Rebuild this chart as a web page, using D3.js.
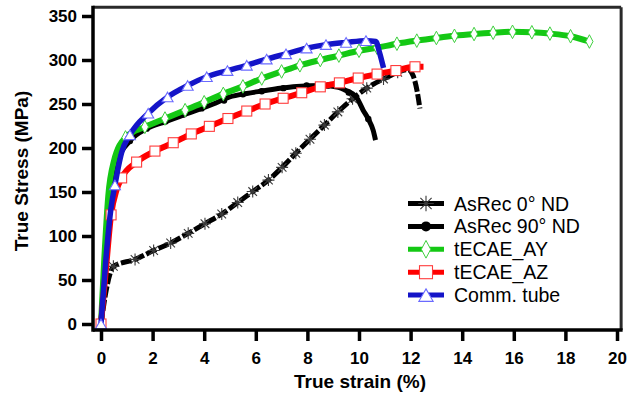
<!DOCTYPE html>
<html>
<head>
<meta charset="utf-8">
<script src="https://cdn.jsdelivr.net/npm/d3@7"></script>
<style>
  body { margin: 0; background: #fff; }
  svg { display: block; font-family: "Liberation Sans", Arial, sans-serif; }
</style>
</head>
<body>
<svg id="chart" width="629" height="396"></svg>
<script>
// Axis ticks
const strainTicks = [0, 2, 4, 6, 8, 10, 12, 14, 16, 18, 20];
const stressTicks = [0, 50, 100, 150, 200, 250, 300, 350];

// Series labels (legend order)
const seriesNames = ["AsRec 0° ND", "AsRec 90° ND", "tECAE_AY", "tECAE_AZ", "Comm. tube"];

// AsRec 0° ND: [true strain %, true stress MPa]
const asRec0 = [[0,0],[0.2,38],[0.35,57],[0.48,65.5],[1.32,73.4],[2.04,83.5],[2.7,92],[3.38,103],
  [4.03,114],[4.68,125],[5.3,138],[5.88,150.5],[6.49,163.5],[7.02,178],[7.55,194],[8.1,210],
  [8.66,226],[9.18,241],[9.75,256],[10.3,268],[10.95,278.5],[11.5,286],[11.9,289],[12.1,282],
  [12.25,265],[12.36,245]];
const asRec0Marks = [[0.48,65.5],[1.32,73.4],[2.04,83.5],[2.7,92],[3.38,103],[4.03,114],[4.68,125],
  [5.3,138],[5.88,150.5],[6.49,163.5],[7.02,178],[7.55,194],[8.1,210],[8.66,226],[9.18,241],
  [9.75,256],[10.3,268],[10.95,278.5],[11.5,286]];

// AsRec 90° ND
const asRec90 = [[0,0],[0.15,80],[0.35,148],[0.6,182],[1.12,208],[1.77,222],[2.5,230],[3.06,236],
  [4.35,250],[4.99,258],[5.65,262],[6.29,265],[6.94,268],[7.58,270],[8.62,271],[9.2,269],
  [9.45,266],[9.9,257.6],[10.16,243],[10.36,233],[10.55,220],[10.64,209]];
const asRec90Marks = [[0.35,148],[1.12,208],[1.77,222],[2.5,230],[3.2,238],[3.9,245],[4.77,254],
  [5.5,261],[6.23,264.5],[7.07,268],[7.97,271],[8.8,271],[9.6,263],[10.36,233]];

// tECAE_AY
const tecaeAY = [[0,0],[0.12,70],[0.28,145],[0.5,185],[0.95,212],[1.7,224],[2.48,233.5],[3.26,243],
  [4.0,252],[4.74,261.5],[5.5,270],[6.23,279],[7.0,287],[7.71,294],[8.5,300],[9.22,305],
  [10.0,310.5],[10.7,314],[11.47,318.5],[12.24,322],[13.0,325],[13.7,327.5],[14.46,329.5],
  [15.2,331],[15.95,332],[16.7,331.5],[17.4,330],[18.2,327],[18.93,321]];
const tecaeAYMarks = [[0,0],[0.95,212],[1.7,224],[2.48,233.5],[3.26,243],[4.0,252],[4.74,261.5],
  [5.5,270],[6.23,279],[7.0,287],[7.71,294],[8.5,300],[9.22,305],[10.0,310.5],[10.7,314],
  [11.47,318.5],[12.24,322],[13.0,325],[13.7,327.5],[14.46,329.5],[15.2,331],[15.95,332],
  [16.7,331.5],[17.4,330],[18.2,327],[18.93,321]];

// tECAE_AZ
const tecaeAZ = [[0,0],[0.2,65],[0.39,124],[0.6,152],[0.8,166],[1.38,184],[2.09,196.5],[2.8,206],
  [3.5,216],[4.2,224.6],[4.92,233.5],[5.65,242],[6.36,250],[7.06,256.5],[7.78,262.8],[8.5,269.5],
  [9.24,274],[9.97,279.5],[10.7,284],[11.43,288],[12.17,292.3],[12.5,292.3]];
const tecaeAZMarks = [[0,0],[0.39,124],[0.8,166],[1.38,184],[2.09,196.5],[2.8,206],[3.5,216],
  [4.2,224.6],[4.92,233.5],[5.65,242],[6.36,250],[7.06,256.5],[7.78,262.8],[8.5,269.5],
  [9.24,274],[9.97,279.5],[10.7,284],[11.43,288],[12.17,292.3]];

// Comm. tube
const commTube = [[0,0],[0.18,70],[0.38,130],[0.54,158],[0.8,195],[1.12,215],[1.83,239.5],[2.58,258],
  [3.36,271],[4.1,281],[4.9,288],[5.65,294],[6.42,301],[7.17,307],[7.97,313.5],[8.72,317.5],
  [9.5,320],[10.27,322],[10.65,321],[10.8,308],[10.95,291]];
const commTubeMarks = [[0,0],[0.54,158],[1.12,215],[1.83,239.5],[2.58,258],[3.36,271],[4.1,281],
  [4.9,288],[5.65,294],[6.42,301],[7.17,307],[7.97,313.5],[8.72,317.5],[9.5,320],[10.27,322]];

const svg = d3.select("#chart");

const x = d3.scaleLinear().domain([0, 20]).range([101, 617]);
const y = d3.scaleLinear().domain([0, 350]).range([324, 16]);

// plot frame edges
const frameL = x(-0.31), frameR = x(20.16), frameT = y(360), frameB = y(-6.8);

// Series styling
const styles = [
  { color: "#000", width: 5, dash: "11,2.5", marker: "asterisk", lineData: asRec0, marks: asRec0Marks },
  { color: "#000", width: 5, dash: null, marker: "circle", lineData: asRec90, marks: asRec90Marks },
  { color: "#14c814", width: 6, dash: null, marker: "diamond", lineData: tecaeAY, marks: tecaeAYMarks },
  { color: "#ff0000", width: 6, dash: null, marker: "square", lineData: tecaeAZ, marks: tecaeAZMarks },
  { color: "#1414c8", width: 5.5, dash: null, marker: "triangle", lineData: commTube, marks: commTubeMarks }
];

function drawMarker(g, type, cx, cy, big) {
  const k = big ? 1.3 : 1;
  if (type === "asterisk") {
    const r = 6 * k, d = r * 0.72;
    g.append("path")
      .attr("d", `M${cx},${cy - r}V${cy + r}M${cx - r},${cy}H${cx + r}M${cx - d},${cy - d}L${cx + d},${cy + d}M${cx - d},${cy + d}L${cx + d},${cy - d}`)
      .attr("stroke", "#3a3a3a").attr("stroke-width", 1.1).attr("fill", "none");
  } else if (type === "circle") {
    g.append("circle").attr("cx", cx).attr("cy", cy).attr("r", big ? 5 : 3.2).attr("fill", "#000");
  } else if (type === "diamond") {
    const w = 3.6 * k, h = 6.8 * k;
    g.append("path")
      .attr("d", `M${cx},${cy - h}L${cx + w},${cy}L${cx},${cy + h}L${cx - w},${cy}Z`)
      .attr("fill", "#fff").attr("stroke", "#3fd03f").attr("stroke-width", 1);
  } else if (type === "square") {
    const s = 5 * k;
    g.append("rect").attr("x", cx - s).attr("y", cy - s).attr("width", 2 * s).attr("height", 2 * s)
      .attr("fill", "#fff").attr("stroke", "#ff3c3c").attr("stroke-width", 1.1);
  } else if (type === "triangle") {
    const w = 5.5 * k, h = 4.8 * k;
    g.append("path")
      .attr("d", `M${cx},${cy - h}L${cx + w},${cy + h}L${cx - w},${cy + h}Z`)
      .attr("fill", "#fff").attr("stroke", "#6a6aff").attr("stroke-width", 1.1);
  }
}

const line = d3.line().x(d => x(d[0])).y(d => y(d[1])).curve(d3.curveMonotoneX);

const plot = svg.append("g");
styles.forEach(s => {
  const g = plot.append("g");
  g.append("path").datum(s.lineData)
    .attr("d", line)
    .attr("fill", "none")
    .attr("stroke", s.color)
    .attr("stroke-width", s.width)
    .attr("stroke-linejoin", "round")
    .attr("stroke-dasharray", s.dash);
  s.marks.forEach(p => drawMarker(g, s.marker, x(p[0]), y(p[1]), false));
});

// Frame
svg.append("line").attr("x1", frameL).attr("x2", frameR).attr("y1", frameT).attr("y2", frameT)
  .attr("stroke", "#2a2a2a").attr("stroke-width", 3);
svg.append("line").attr("x1", frameR).attr("x2", frameR).attr("y1", frameT).attr("y2", frameB)
  .attr("stroke", "#2a2a2a").attr("stroke-width", 3);
svg.append("line").attr("x1", frameL).attr("x2", frameR + 1.5).attr("y1", frameB).attr("y2", frameB)
  .attr("stroke", "#000").attr("stroke-width", 3.5);
svg.append("line").attr("x1", frameL).attr("x2", frameL).attr("y1", frameT - 1.5).attr("y2", frameB + 1.7)
  .attr("stroke", "#000").attr("stroke-width", 3.5);

// Axes
const xAxis = svg.append("g").attr("transform", `translate(0,${frameB})`)
  .call(d3.axisBottom(x).tickValues(strainTicks).tickSize(11).tickPadding(11).tickFormat(d3.format("d")));
const yAxis = svg.append("g").attr("transform", `translate(${frameL},0)`)
  .call(d3.axisLeft(y).tickValues(stressTicks).tickSize(11).tickPadding(5).tickFormat(d3.format("d")));
[xAxis, yAxis].forEach(a => {
  a.select(".domain").remove();
  a.selectAll(".tick line").attr("stroke", "#000").attr("stroke-width", 3.5);
  a.selectAll(".tick text")
    .attr("fill", "#000")
    .style("font-family", "'Liberation Sans', Arial, sans-serif")
    .style("font-size", "17px")
    .style("font-weight", "bold");
});

// Axis titles
svg.append("text").attr("x", 360).attr("y", 388).attr("text-anchor", "middle")
  .style("font-size", "19px").style("font-weight", "bold").text("True strain (%)");
svg.append("text").attr("transform", "translate(28,171) rotate(-90)").attr("text-anchor", "middle")
  .style("font-size", "19px").style("font-weight", "bold").text("True Stress (MPa)");

// Legend
const legend = svg.append("g");
styles.forEach((s, i) => {
  const ly = 203.5 + i * 22.9;
  const g = legend.append("g");
  g.append("line").attr("x1", 408).attr("x2", 444).attr("y1", ly).attr("y2", ly)
    .attr("stroke", s.color).attr("stroke-width", 5);
  drawMarker(g, s.marker, 426, ly, true);
  g.append("text").attr("x", 454).attr("y", ly).attr("dy", "0.36em")
    .style("font-size", "19.5px").text(seriesNames[i]);
});
</script>
</body>
</html>
